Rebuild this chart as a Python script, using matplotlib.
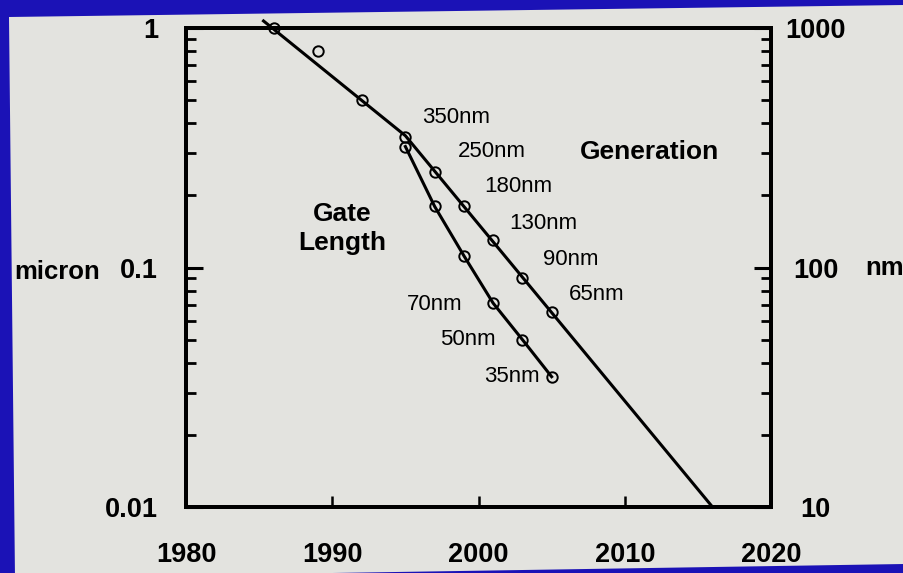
import matplotlib
matplotlib.use("Agg")
import matplotlib.pyplot as plt
from matplotlib.patches import Polygon
from matplotlib.ticker import LogLocator, NullFormatter

plt.rcParams['font.family'] = ['Liberation Sans', 'DejaVu Sans']

# technology generation (node) per year, micron
gen_years = [1986, 1989, 1992, 1995, 1997, 1999, 2001, 2003, 2005]
gen_size = [1.0, 0.8, 0.5, 0.35, 0.25, 0.18, 0.13, 0.09, 0.065]

# trend line through the generations
trend_years = [1985.3, 1995, 2016.0]
trend_size = [1.07, 0.355, 0.01]

# physical gate length per year, micron
gate_years = [1995, 1997, 1999, 2001, 2003, 2005]
gate_size = [0.32, 0.18, 0.112, 0.071, 0.05, 0.035]

gen_labels = ["350nm", "250nm", "180nm", "130nm", "90nm", "65nm"]
gen_label_pos = [(1998.5, 0.425), (2000.9, 0.304), (2002.7, 0.217),
                 (2004.4, 0.153), (2006.3, 0.108), (2008.1, 0.077)]
gate_labels = ["70nm", "50nm", "35nm"]
gate_label_pos = [(1997.0, 0.07), (1999.3, 0.05), (2002.3, 0.035)]

x_ticks = [1980, 1990, 2000, 2010, 2020]
y_ticks = [0.01, 0.1, 1]
y_ticklabels = ["0.01", "0.1", "1"]
nm_ticks = [10, 100, 1000]
nm_ticklabels = ["10", "100", "1000"]

blue = '#1b12b6'
panel = '#e3e3df'

W, H = 904, 573
fig = plt.figure(figsize=(W / 100, H / 100), dpi=100)
fig.patch.set_facecolor(blue)

# slide background, slightly tilted
corners = [(9, 17), (904, 5), (904, 564), (15, 578)]
fig.patches.append(Polygon([(x / W, 1 - y / H) for x, y in corners],
                           closed=True, transform=fig.transFigure,
                           facecolor=panel, edgecolor='none', zorder=-10))

ax = fig.add_axes([186 / W, 1 - 507 / H, 585 / W, 479 / H])
ax.set_facecolor('none')
ax.set_xlim(1980, 2020)
ax.set_yscale('log')
ax.set_ylim(0.01, 1)

ax.plot(trend_years, trend_size, color='black', lw=2.2, clip_on=False, zorder=3)
ax.plot(gen_years, gen_size, linestyle='none', marker='o', ms=7.5,
        mfc='none', mec='black', mew=1.4, clip_on=False, zorder=4)
ax.plot(gate_years, gate_size, color='black', lw=2.2, marker='o', ms=7.5,
        mfc='none', mec='black', mew=1.4, clip_on=False, zorder=4)

for lab, (x, y) in zip(gen_labels, gen_label_pos):
    ax.text(x, y, lab, fontsize=16, ha='center', va='center')
for lab, (x, y) in zip(gate_labels, gate_label_pos):
    ax.text(x, y, lab, fontsize=16, ha='center', va='center')

ax.text(1990.7, 0.146, "Gate\nLength", fontsize=19, fontweight='bold',
        ha='center', va='center', linespacing=1.25)
ax.text(2011.7, 0.304, "Generation", fontsize=19, fontweight='bold',
        ha='center', va='center')

for s in ax.spines.values():
    s.set_linewidth(2.8)

ax.set_xticks(x_ticks, labels=[str(t) for t in x_ticks], fontsize=19.5, fontweight='bold')
ax.set_yticks(y_ticks, labels=y_ticklabels, fontsize=19.5, fontweight='bold')
ax.yaxis.set_minor_locator(LogLocator(base=10, subs=range(2, 10)))
ax.yaxis.set_minor_formatter(NullFormatter())
ax.tick_params(axis='x', direction='in', length=8, width=1.8, pad=25, top=False)
ax.tick_params(axis='y', which='major', direction='in', length=12, width=2.2,
               pad=20, right=False)
ax.tick_params(axis='y', which='minor', direction='in', length=7, width=2,
               right=False)

ax2 = ax.twinx()
ax2.set_yscale('log')
ax2.set_ylim(10, 1000)
ax2.set_yticks(nm_ticks, labels=nm_ticklabels, fontsize=19.5, fontweight='bold')
ax2.yaxis.set_minor_locator(LogLocator(base=10, subs=range(2, 10)))
ax2.yaxis.set_minor_formatter(NullFormatter())
ax2.tick_params(axis='y', which='major', direction='in', length=12, width=2.2, pad=32)
ax2.tick_params(axis='y', which='minor', direction='in', length=7, width=2)
for lbl in ax2.get_yticklabels():
    lbl.set_horizontalalignment('center')
for s in ax2.spines.values():
    s.set_linewidth(2.8)

fig.text(57 / W, 1 - 272 / H, "micron", fontsize=18.5, fontweight='bold',
         ha='center', va='center')
fig.text(885 / W, 1 - 268 / H, "nm", fontsize=18.5, fontweight='bold',
         ha='center', va='center')

fig.savefig("out.png", dpi=100, facecolor=fig.get_facecolor())
